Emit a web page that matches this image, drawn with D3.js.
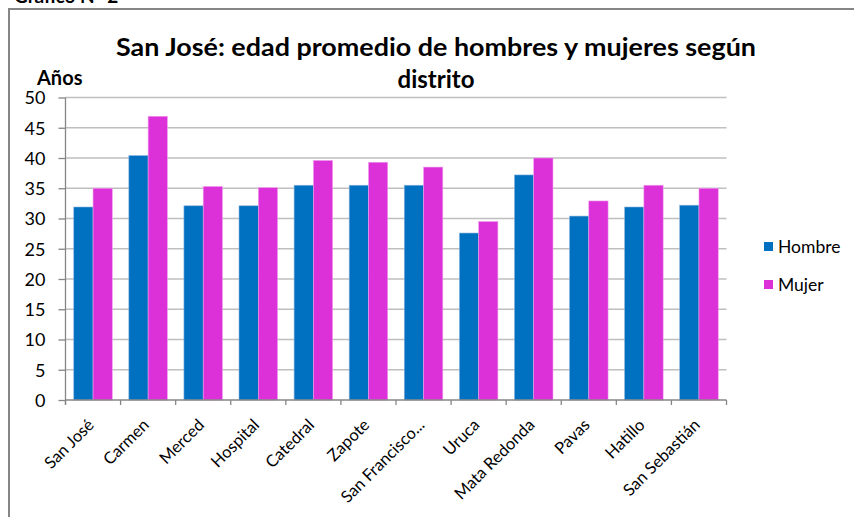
<!DOCTYPE html>
<html>
<head>
<meta charset="utf-8">
<script src="https://cdn.jsdelivr.net/npm/d3@7"></script>
<style>
  html, body { margin: 0; padding: 0; background: #fff; }
  svg { display: block; }
  text { font-family: Lato, "Open Sans", sans-serif; fill: #000; }
</style>
</head>
<body>
<svg id="chart" width="854" height="517"></svg>
<script>
const categories = ["San José", "Carmen", "Merced", "Hospital", "Catedral", "Zapote",
  "San Francisco...", "Uruca", "Mata Redonda", "Pavas", "Hatillo", "San Sebastián"];
const hombre = [31.9, 40.4, 32.1, 32.1, 35.5, 35.5, 35.5, 27.6, 37.2, 30.4, 31.9, 32.2];
const mujer  = [35.0, 46.9, 35.3, 35.1, 39.6, 39.3, 38.5, 29.5, 40.0, 32.9, 35.5, 35.0];
const seriesNames = ["Hombre", "Mujer"];
const seriesColors = ["#0070C0", "#DC30D8"];
const yTicks = [0, 5, 10, 15, 20, 25, 30, 35, 40, 45, 50];
const titleLines = ["San José: edad promedio de hombres y mujeres según", "distrito"];

const svg = d3.select("#chart");
const plot = { left: 65.5, right: 726.5, top: 97.5, bottom: 400 };

// outer frame (partially outside the picture)
svg.append("text").attr("x", 14).attr("y", 3)
  .attr("font-size", 19).attr("font-weight", "bold").text("Gráfico N° 2");
svg.append("rect").attr("x", 9).attr("y", 9).attr("width", 860).attr("height", 520)
  .attr("fill", "#fff").attr("stroke", "#868686").attr("stroke-width", 2);

const x0 = d3.scaleBand().domain(categories).range([plot.left, plot.right])
  .paddingInner(0.3).paddingOuter(0.15);
const x1 = d3.scaleBand().domain(seriesNames).range([0, x0.bandwidth()]);
const y = d3.scaleLinear().domain([0, 50]).range([plot.bottom, plot.top]);

// gridlines
svg.append("g").selectAll("line").data(yTicks.filter(d => d > 0)).join("line")
  .attr("x1", plot.left).attr("x2", plot.right)
  .attr("y1", d => y(d)).attr("y2", d => y(d))
  .attr("stroke", "#bfbfbf").attr("stroke-width", 1.3);

// bars
const data = categories.map((c, i) => ({ c, vals: [hombre[i], mujer[i]] }));
const groups = svg.append("g").selectAll("g").data(data).join("g")
  .attr("transform", d => `translate(${x0(d.c)},0)`);
groups.selectAll("rect").data(d => d.vals.map((v, j) => ({ v, s: seriesNames[j], j })))
  .join("rect")
  .attr("x", d => x1(d.s)).attr("width", x1.bandwidth())
  .attr("y", d => y(d.v)).attr("height", d => y(0) - y(d.v))
  .attr("fill", d => seriesColors[d.j])
  .attr("stroke", d => d.j === 0 ? "#8db4dc" : "#f0a0ee").attr("stroke-width", 0.6);

// y axis
const yAxis = d3.axisLeft(y).tickValues(yTicks).tickSize(7).tickPadding(13);
const gy = svg.append("g").attr("transform", `translate(${plot.left},0)`).call(yAxis);
gy.select(".domain").attr("stroke", "#868686").attr("stroke-width", 1.3)
  .attr("d", `M0,${plot.top}V${plot.bottom + 5}`);
gy.selectAll(".tick line").attr("stroke", "#868686").attr("stroke-width", 1.3);
gy.selectAll(".tick text").attr("font-size", 18).attr("font-family", "Lato, sans-serif").attr("fill", "#000").attr("dy", "0.36em");

// x axis with boundary ticks
const gx = svg.append("g");
gx.append("line").attr("x1", plot.left).attr("x2", plot.right)
  .attr("y1", plot.bottom).attr("y2", plot.bottom)
  .attr("stroke", "#868686").attr("stroke-width", 1.3);
const boundaries = categories.map(c => x0(c) - x0.step() * x0.paddingInner() / 2)
  .concat([plot.right]);
boundaries[0] = plot.left;
gx.selectAll("line.t").data(boundaries).join("line").attr("class", "t")
  .attr("x1", d => d).attr("x2", d => d).attr("y1", plot.bottom).attr("y2", plot.bottom + 5)
  .attr("stroke", "#868686").attr("stroke-width", 1.3);
gx.selectAll("text").data(categories).join("text")
  .attr("transform", d => `translate(${x0(d) + x0.bandwidth() / 2 + 2},${plot.bottom + 26}) rotate(-45)`)
  .attr("text-anchor", "end")
  .attr("font-size", 16.5).text(d => d);

// axis title
svg.append("text").attr("x", 37).attr("y", 85).attr("font-size", 20)
  .attr("font-weight", "bold").text("Años");

// chart title
const tt = svg.append("g");
tt.selectAll("text").data(titleLines).join("text")
  .attr("x", 436).attr("y", (d, i) => 56 + i * 32)
  .attr("text-anchor", "middle").attr("font-size", 24).attr("font-weight", "bold")
  .text(d => d);
tt.select("text").attr("textLength", 640).attr("lengthAdjust", "spacingAndGlyphs");

// legend
const lg = svg.append("g").selectAll("g").data(seriesNames).join("g")
  .attr("transform", (d, i) => `translate(764,${242 + i * 38})`);
lg.append("rect").attr("width", 9).attr("height", 9).attr("fill", (d, i) => seriesColors[i]);
lg.append("text").attr("x", 14).attr("y", 11).attr("font-size", 17.5).text(d => d);
</script>
</body>
</html>
